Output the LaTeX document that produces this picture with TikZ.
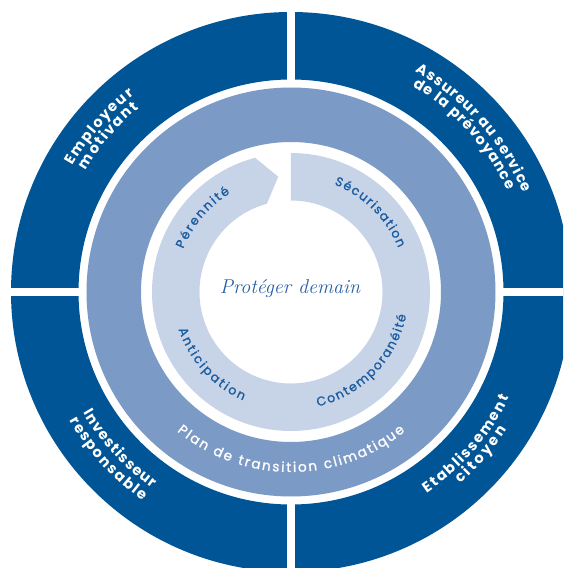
\documentclass[tikz,border=0pt]{standalone}
\usepackage{fontspec}
\newfontfamily\popfont{Poppins}
\newfontfamily\popmed{Poppins}[FakeBold=1.2]
\usetikzlibrary{decorations.text}
\definecolor{darkblue}{RGB}{0,85,150}
\definecolor{medblue}{RGB}{123,155,198}
\definecolor{lightblue}{RGB}{199,212,232}
\definecolor{txtblue}{RGB}{27,92,160}
\definecolor{scriptblue}{RGB}{40,95,165}
\newcommand\outerfmt{\popfont\bfseries\fontsize{14.6pt}{16pt}\selectfont}
\newcommand\innerfmt{\popmed\fontsize{12.5pt}{14pt}\selectfont}
\newcommand\planfmt{\popmed\fontsize{13.6pt}{15pt}\selectfont}
% #1 format, #2 colour, #3 text, #4 radius, #5 start angle, #6 end angle
\newcommand\arclabel[6]{%
  \begingroup#1%
  \path[font=#1, decorate, decoration={text along path, text={|#1|#3}, text color=#2,
    text align={fit to path}}] (#5:#4) arc[start angle=#5, end angle=#6, radius=#4];%
  \endgroup}
\tikzset{sep/.style={white, line width=8pt}}
\begin{document}
\begin{tikzpicture}
\useasboundingbox (-291pt,-276pt) rectangle (272pt,292pt);
\clip (-291pt,-276pt) rectangle (272pt,292pt);
\fill[white] (-291pt,-276pt) rectangle (272pt,292pt);
% outer dark ring
\fill[darkblue, even odd rule] (0,0) circle (280pt) (0,0) circle (212.5pt);
\draw[sep] (0,207pt) -- (0,290pt);
\draw[sep] (0,-207pt) -- (0,-290pt);
\draw[sep] (207pt,0) -- (290pt,0);
\draw[sep] (-207pt,0) -- (-290pt,0);
% middle ring
\fill[medblue, even odd rule] (0,0) circle (204.5pt) (0,0) circle (150pt);
% inner arrow ring
\fill[lightblue] (90:139pt) arc[start angle=90, end angle=-255, radius=139pt]
  -- (96.3:116pt) -- (-254.7:91.5pt) arc[start angle=-254.7, end angle=90, radius=91.5pt] -- cycle;
% centre
\node[font=\fontsize{20pt}{21pt}\selectfont\itshape, text=scriptblue, anchor=base] (motto) at (-1pt,-1pt) {Protéger demain};
% outer labels
\arclabel{\outerfmt}{white}{Employeur}{252pt}{150}{128.5}
\arclabel{\outerfmt}{white}{motivant}{238.5pt}{149.3}{129.6}
\arclabel{\outerfmt}{white}{Assureur au service}{252.5pt}{60.6}{23.1}
\arclabel{\outerfmt}{white}{de la prévoyance}{239pt}{59.5}{25.2}
\arclabel{\outerfmt}{white}{Investisseur}{240.5pt}{210.2}{234.7}
\arclabel{\outerfmt}{white}{responsable}{256pt}{210.1}{234.6}
\arclabel{\outerfmt}{white}{Etablissement}{242.5pt}{304}{334.2}
\arclabel{\outerfmt}{white}{citoyen}{256pt}{311.5}{327.5}
% middle ring label
\arclabel{\planfmt}{white}{Plan de transition climatique}{180pt}{230.7}{309.3}
% inner labels
\arclabel{\innerfmt}{txtblue}{Pérennité}{116pt}{158.2}{121.6}
\arclabel{\innerfmt}{txtblue}{Sécurisation}{116pt}{68.1}{22.3}
\arclabel{\innerfmt}{txtblue}{Contemporanéité}{117.5pt}{283.2}{348.6}
\arclabel{\innerfmt}{txtblue}{Anticipation}{118.5pt}{198.4}{246.2}
\end{tikzpicture}
\end{document}
